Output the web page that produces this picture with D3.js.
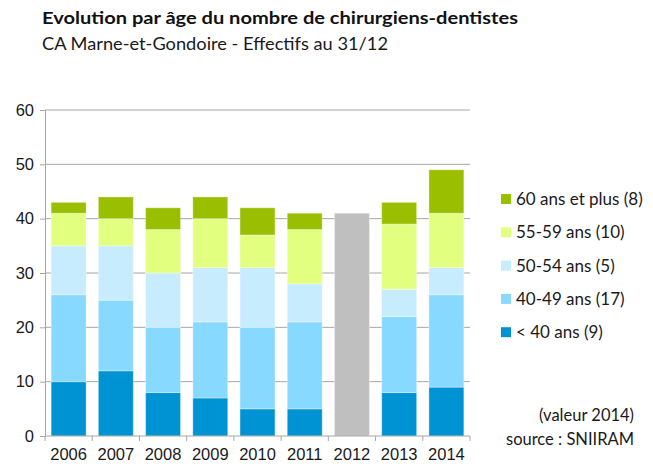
<!DOCTYPE html>
<html>
<head>
<meta charset="utf-8">
<script src="https://cdn.jsdelivr.net/npm/d3@7"></script>
<style>
  body { margin: 0; background: #fff; }
  svg { font-family: Lato, "Open Sans", sans-serif; }
  .axis path, .axis line { stroke: #a6a6a6; }
  .axis text { fill: #1a1a1a; font-size: 16.5px; }
</style>
</head>
<body>
<div id="chart"></div>
<script>
var svgWidth = 653;
var svgHeight = 470;

var margin = { top: 110, right: 183, bottom: 34, left: 45 };
var width = svgWidth - margin.left - margin.right;
var height = svgHeight - margin.top - margin.bottom;

// data
var years = ["2006", "2007", "2008", "2009", "2010", "2011", "2012", "2013", "2014"];
var ageGroups = ["< 40 ans", "40-49 ans", "50-54 ans", "55-59 ans", "60 ans et plus"];
var under40 = [10, 12, 8, 7, 5, 5, null, 8, 9];
var age4049 = [16, 13, 12, 14, 15, 16, null, 14, 17];
var age5054 = [9, 10, 10, 10, 11, 7, null, 5, 5];
var age5559 = [6, 5, 8, 9, 6, 10, null, 12, 10];
var over60 = [2, 4, 4, 4, 5, 3, null, 4, 8];
var totalOnly = [null, null, null, null, null, null, 41, null, null];
var yTicks = [0, 10, 20, 30, 40, 50, 60];

var colors = ["#0093d3", "#87d9ff", "#c6ecfe", "#e3ff80", "#99bf00"];
var grayColor = "#bfbfbf";

var svg = d3.select("#chart")
  .append("svg")
  .attr("width", svgWidth)
  .attr("height", svgHeight);

// titles
svg.append("text")
  .attr("x", 42).attr("y", 24)
  .attr("textLength", 476).attr("lengthAdjust", "spacingAndGlyphs")
  .style("font-size", "17px").style("font-weight", "bold").style("fill", "#111")
  .text("Evolution par âge du nombre de chirurgiens-dentistes");

svg.append("text")
  .attr("x", 42).attr("y", 50)
  .attr("textLength", 346).attr("lengthAdjust", "spacingAndGlyphs")
  .style("font-size", "16.5px").style("fill", "#1a1a1a")
  .text("CA Marne-et-Gondoire - Effectifs au 31/12");

var chartGroup = svg.append("g")
  .attr("transform", `translate(${margin.left}, ${margin.top})`);

var xBandScale = d3.scaleBand().domain(years).range([0, width]).paddingInner(0.26).paddingOuter(0.13);
var yLinearScale = d3.scaleLinear().domain([0, 60]).range([height, 0]);

// gridlines
chartGroup.append("g")
  .selectAll("line")
  .data(yTicks.slice(1))
  .enter()
  .append("line")
  .attr("x1", 0).attr("x2", width)
  .attr("y1", function(d) { return yLinearScale(d); })
  .attr("y2", function(d) { return yLinearScale(d); })
  .attr("stroke", "#a6a6a6");

// stacked bars
var rows = years.map(function(y, i) {
  return { year: y, a: under40[i], b: age4049[i], c: age5054[i], d: age5559[i], e: over60[i] };
});
var stack = d3.stack().keys(["a", "b", "c", "d", "e"])(rows.filter(function(r) { return r.a !== null; }));

chartGroup.selectAll(".layer")
  .data(stack)
  .enter()
  .append("g")
  .attr("fill", function(d, i) { return colors[i]; })
  .selectAll("rect")
  .data(function(d) { return d; })
  .enter()
  .append("rect")
  .attr("x", function(d) { return xBandScale(d.data.year); })
  .attr("y", function(d) { return yLinearScale(d[1]); })
  .attr("width", xBandScale.bandwidth())
  .attr("height", function(d) { return yLinearScale(d[0]) - yLinearScale(d[1]); })
  .attr("stroke", "#ffffff")
  .attr("stroke-opacity", 0.35);

// 2012: total only
chartGroup.selectAll(".total")
  .data(years.filter(function(y, i) { return totalOnly[i] !== null; }))
  .enter()
  .append("rect")
  .attr("x", function(d) { return xBandScale(d); })
  .attr("y", function(d) { return yLinearScale(totalOnly[years.indexOf(d)]); })
  .attr("width", xBandScale.bandwidth())
  .attr("height", function(d) { return height - yLinearScale(totalOnly[years.indexOf(d)]); })
  .attr("fill", grayColor)
  .attr("stroke", "#ffffff")
  .attr("stroke-opacity", 0.35);

// axes
var leftAxis = d3.axisLeft(yLinearScale).tickValues(yTicks).tickSize(5).tickPadding(6).tickSizeOuter(0);
chartGroup.append("g").attr("class", "axis").call(leftAxis);

var bottomAxis = d3.axisBottom(xBandScale).tickSize(0).tickPadding(12);
var xAxisGroup = chartGroup.append("g")
  .attr("class", "axis")
  .attr("transform", `translate(0, ${height})`)
  .call(bottomAxis);
xAxisGroup.select(".domain").attr("d", "M0,0H" + width);

// ticks between categories
var bounds = d3.range(years.length + 1).map(function(i) { return i * width / years.length; });
xAxisGroup.selectAll(".sep")
  .data(bounds)
  .enter()
  .append("line")
  .attr("x1", function(d) { return d; }).attr("x2", function(d) { return d; })
  .attr("y1", 0).attr("y2", 5)
  .attr("stroke", "#a6a6a6");

// legend (2014 values)
var legendLabels = ["60 ans et plus (8)", "55-59 ans (10)", "50-54 ans (5)", "40-49 ans (17)", "< 40 ans (9)"];
var legend = svg.append("g").attr("transform", "translate(501, 199)");
var legendItems = legend.selectAll("g")
  .data(legendLabels)
  .enter()
  .append("g")
  .attr("transform", function(d, i) { return `translate(0, ${i * 33.3})`; });

legendItems.append("rect")
  .attr("x", 0).attr("y", -5)
  .attr("width", 10).attr("height", 10)
  .attr("fill", function(d, i) { return colors[colors.length - 1 - i]; });

legendItems.append("text")
  .attr("x", 15).attr("y", 6)
  .style("font-size", "17px").style("fill", "#1a1a1a")
  .text(function(d) { return d; });

// source notes
svg.append("text")
  .attr("x", 634).attr("y", 421)
  .attr("text-anchor", "end")
  .style("font-size", "16.5px").style("fill", "#1a1a1a")
  .text("(valeur 2014)");

svg.append("text")
  .attr("x", 634).attr("y", 445)
  .attr("text-anchor", "end")
  .style("font-size", "16.5px").style("fill", "#1a1a1a")
  .text("source : SNIIRAM");
</script>
</body>
</html>
